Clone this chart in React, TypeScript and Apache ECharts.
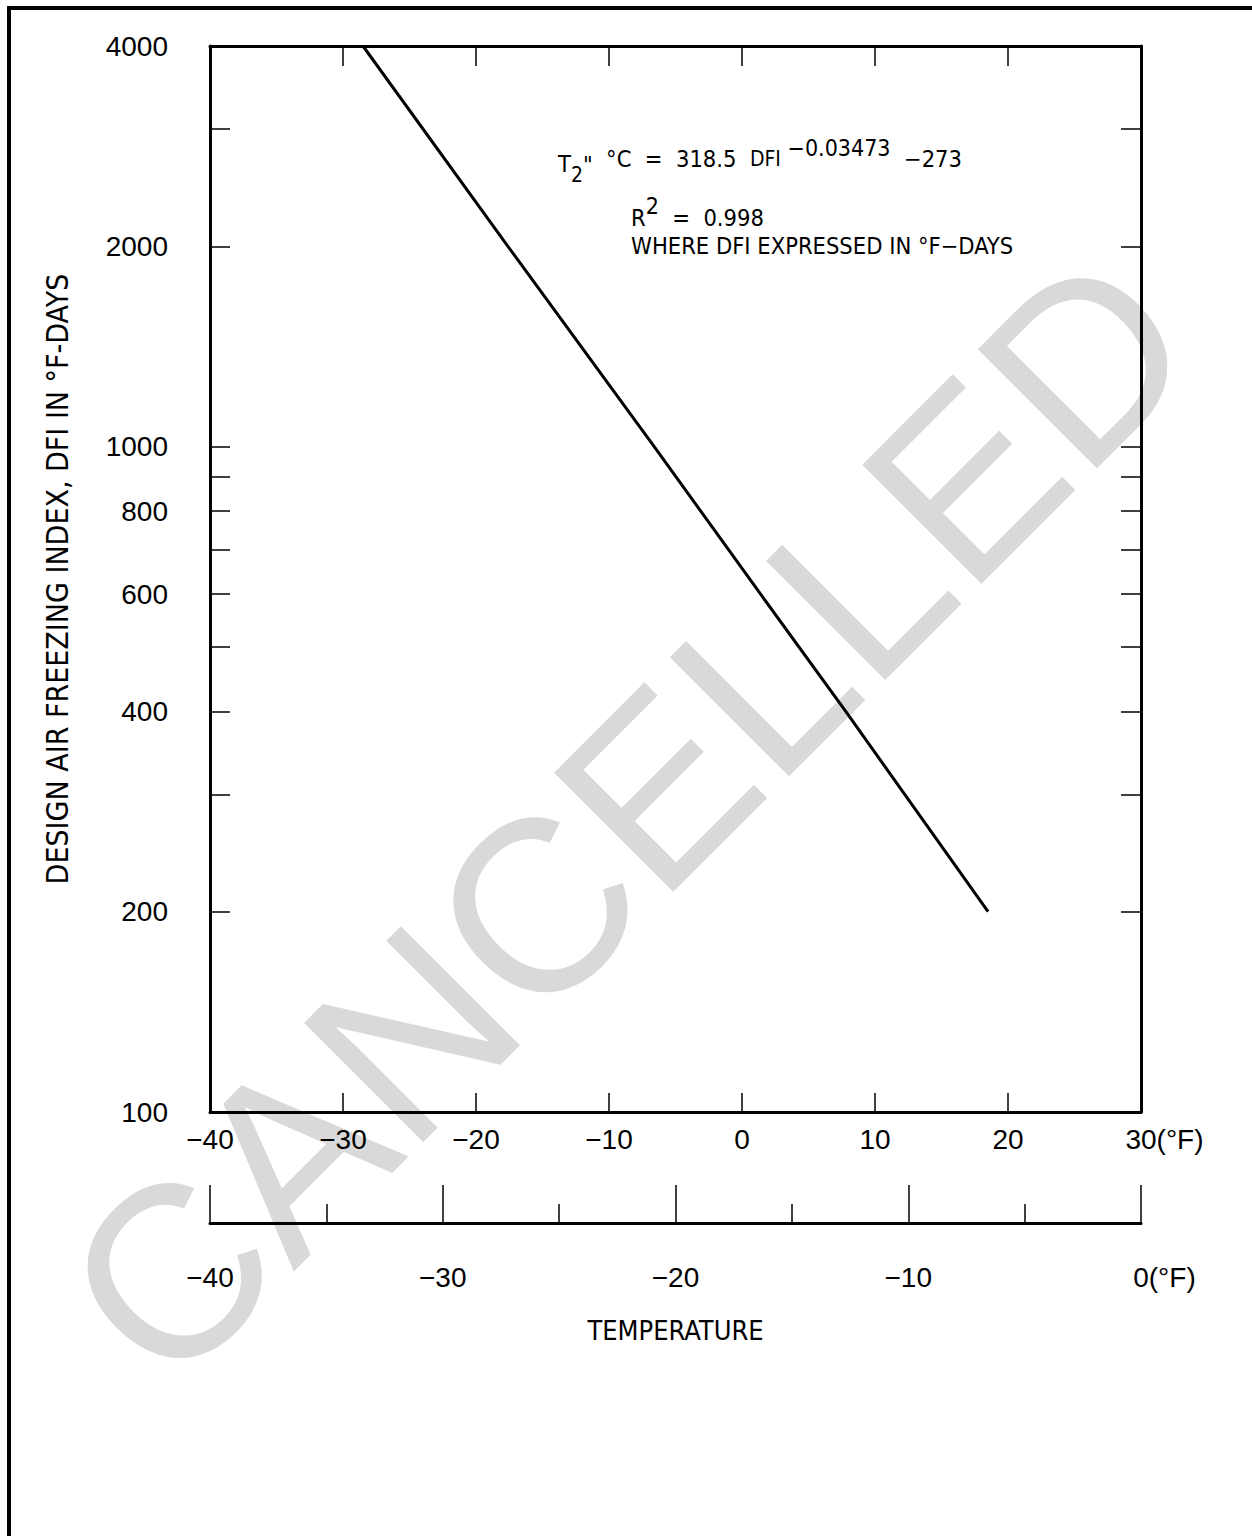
import React, { useEffect, useRef } from 'react';
import * as echarts from 'echarts';

// Data
const temperatureF = [-28.5, -17.6, -6.6, 1.4, 7.8, 18.5];
const dfiValues = [4000, 2000, 1000, 600, 400, 200];

// Axis definitions
const yMin = 100;
const yMax = 4000;
const yLabelValues = [100, 200, 400, 600, 800, 1000, 2000, 4000];
const yTickValues = [100, 200, 300, 400, 500, 600, 700, 800, 900, 1000, 2000, 3000, 4000];
const upperMin = -40;
const upperMax = 30;
const upperStep = 10;
const lowerMin = -40;
const lowerMax = 0;
const lowerStep = 10;

const NUM_FONT = '"Liberation Sans", Arial, sans-serif';
const TXT_FONT = '"DejaVu Sans Condensed", "DejaVu Sans", sans-serif';

const fmtNum = (v: number) => (v < 0 ? '\u2212' + Math.abs(v) : String(v));

export default function App() {
  const ref = useRef<HTMLDivElement>(null);
  useEffect(() => {
    if (!ref.current) return;
    const chart = echarts.init(ref.current, undefined, { renderer: 'svg', width: 1252, height: 1536 });
    const lg = (v: number) => Math.log10(v);
    const black = '#000';
    const axisLine = { show: true, onZero: false, lineStyle: { color: black, width: 3 } };
    const tickStyle = { color: black, width: 1.5 };
    const unitRich = {
      pad: { width: 47, fontSize: 28, fontFamily: NUM_FONT },
      u: { fontSize: 28, fontFamily: NUM_FONT, color: black },
    };
    const labelBase = { fontSize: 28, fontFamily: NUM_FONT, color: black, showMinLabel: true, showMaxLabel: true };
    const A = 23.5;

    const option: any = {
      animation: false,
      backgroundColor: '#fff',
      grid: [
        { left: 210, top: 46, width: 931, height: 1066, containLabel: false },
        { left: 210, top: 1150, width: 931, height: 73, containLabel: false },
      ],
      xAxis: [
        {
          gridIndex: 0, type: 'value', position: 'bottom',
          min: upperMin, max: upperMax, interval: upperStep,
          axisLine, splitLine: { show: false },
          axisTick: { show: true, inside: true, length: 19, lineStyle: tickStyle },
          axisLabel: {
            ...labelBase, margin: 13,
            formatter: (v: number) => (v === upperMax ? '{pad| }' + v + '{u|(°F)}' : fmtNum(v)),
            rich: unitRich,
          },
        },
        {
          gridIndex: 0, type: 'value', position: 'top',
          min: upperMin, max: upperMax, interval: upperStep,
          axisLine, splitLine: { show: false },
          axisTick: { show: true, inside: true, length: 20, lineStyle: tickStyle },
          axisLabel: { show: false },
        },
        {
          gridIndex: 1, type: 'value', position: 'bottom',
          min: lowerMin, max: lowerMax, interval: lowerStep,
          axisLine, splitLine: { show: false },
          axisTick: { show: true, inside: true, length: 38, lineStyle: tickStyle },
          minorTick: { show: true, splitNumber: 2, length: 19, lineStyle: tickStyle },
          minorSplitLine: { show: false },
          axisLabel: {
            ...labelBase, margin: 40,
            formatter: (v: number) => (v === lowerMax ? '{pad| }' + v + '{u|(°F)}' : fmtNum(v)),
            rich: unitRich,
          },
          name: 'TEMPERATURE', nameLocation: 'middle', nameGap: 94,
          nameTextStyle: { fontSize: 27, fontFamily: TXT_FONT, color: black },
        },
      ],
      yAxis: [
        {
          gridIndex: 0, type: 'value', position: 'left',
          min: lg(yMin), max: lg(yMax),
          axisLine, splitLine: { show: false },
          axisTick: { show: true, inside: true, length: 20, lineStyle: tickStyle, customValues: yTickValues.map(lg) },
          axisLabel: {
            ...labelBase, margin: 42,
            customValues: yLabelValues.map(lg),
            formatter: (v: number) => String(Math.round(Math.pow(10, v))),
          },
          name: 'DESIGN AIR FREEZING INDEX, DFI IN °F-DAYS',
          nameLocation: 'middle', nameRotate: 90, nameGap: 138,
          nameTextStyle: { fontSize: 30, fontFamily: TXT_FONT, color: black },
        },
        {
          gridIndex: 0, type: 'value', position: 'right',
          min: lg(yMin), max: lg(yMax),
          axisLine, splitLine: { show: false },
          axisTick: { show: true, inside: true, length: 20, lineStyle: tickStyle, customValues: yTickValues.map(lg) },
          axisLabel: { show: false },
        },
        { gridIndex: 1, type: 'value', show: false, min: 0, max: 1 },
      ],
      series: [
        {
          type: 'line',
          xAxisIndex: 0,
          yAxisIndex: 0,
          data: temperatureF.map((t, i) => [t, lg(dfiValues[i])]),
          symbol: 'none',
          lineStyle: { color: black, width: 3 },
          clip: true,
          z: 5,
        },
      ],
      graphic: [
        {
          type: 'text', z: -10, x: 628, y: 817, rotation: Math.PI / 4,
          style: {
            text: 'CANCELLED', fill: '#d9d9d9', fontSize: 245,
            fontFamily: '"Liberation Sans", Arial, sans-serif',
            align: 'center', verticalAlign: 'middle',
          },
        },
        {
          type: 'polyline', z: 10,
          shape: { points: [[9, 1545], [9, 8], [1260, 8]] },
          style: { stroke: black, lineWidth: 4, fill: 'none' },
        },
        {
          type: 'text', z: 10, x: 558, y: 159,
          style: {
            text: '{T|T}{sub|2}{q|"}{m|  °C  =  318.5  }{d|DFI}{m| }{sup|\u22120.03473}{m|  \u2212273}',
            align: 'left', verticalAlign: 'middle', fill: black,
            fontSize: A, fontFamily: TXT_FONT,
            rich: {
              m: { fontSize: A, fontFamily: TXT_FONT, lineHeight: 52, verticalAlign: 'middle', fill: black },
              d: { fontSize: 21, fontFamily: TXT_FONT, verticalAlign: 'middle', fill: black },
              T: { fontSize: A, fontFamily: TXT_FONT, verticalAlign: 'middle', padding: [10, 0, 0, 0], fill: black },
              q: { fontSize: A, fontFamily: TXT_FONT, verticalAlign: 'middle', padding: [12, 0, 0, 0], fill: black },
              sub: { fontSize: 21, fontFamily: TXT_FONT, verticalAlign: 'bottom', fill: black },
              sup: { fontSize: 23, fontFamily: TXT_FONT, verticalAlign: 'middle', padding: [0, 0, 22, 0], fill: black },
            },
          },
        },
        {
          type: 'text', z: 10, x: 631, y: 218,
          style: {
            text: '{m|R}{sup|2}{m|  =  0.998}',
            align: 'left', verticalAlign: 'middle', fill: black,
            fontSize: A, fontFamily: TXT_FONT,
            rich: {
              m: { fontSize: A, fontFamily: TXT_FONT, lineHeight: 40, verticalAlign: 'middle', fill: black },
              sup: { fontSize: 23, fontFamily: TXT_FONT, verticalAlign: 'middle', padding: [0, 0, 24, 0], fill: black },
            },
          },
        },
        {
          type: 'text', z: 10, x: 631, y: 246,
          style: {
            text: 'WHERE DFI EXPRESSED IN °F\u2212DAYS',
            align: 'left', verticalAlign: 'middle', fill: black,
            fontSize: A, fontFamily: TXT_FONT,
          },
        },
      ],
    };
    chart.setOption(option);
    return () => chart.dispose();
  }, []);
  return (
    <div
      ref={ref}
      style={{ position: 'absolute', left: 0, top: 0, width: 1252, height: 1536, background: '#fff' }}
    />
  );
}
